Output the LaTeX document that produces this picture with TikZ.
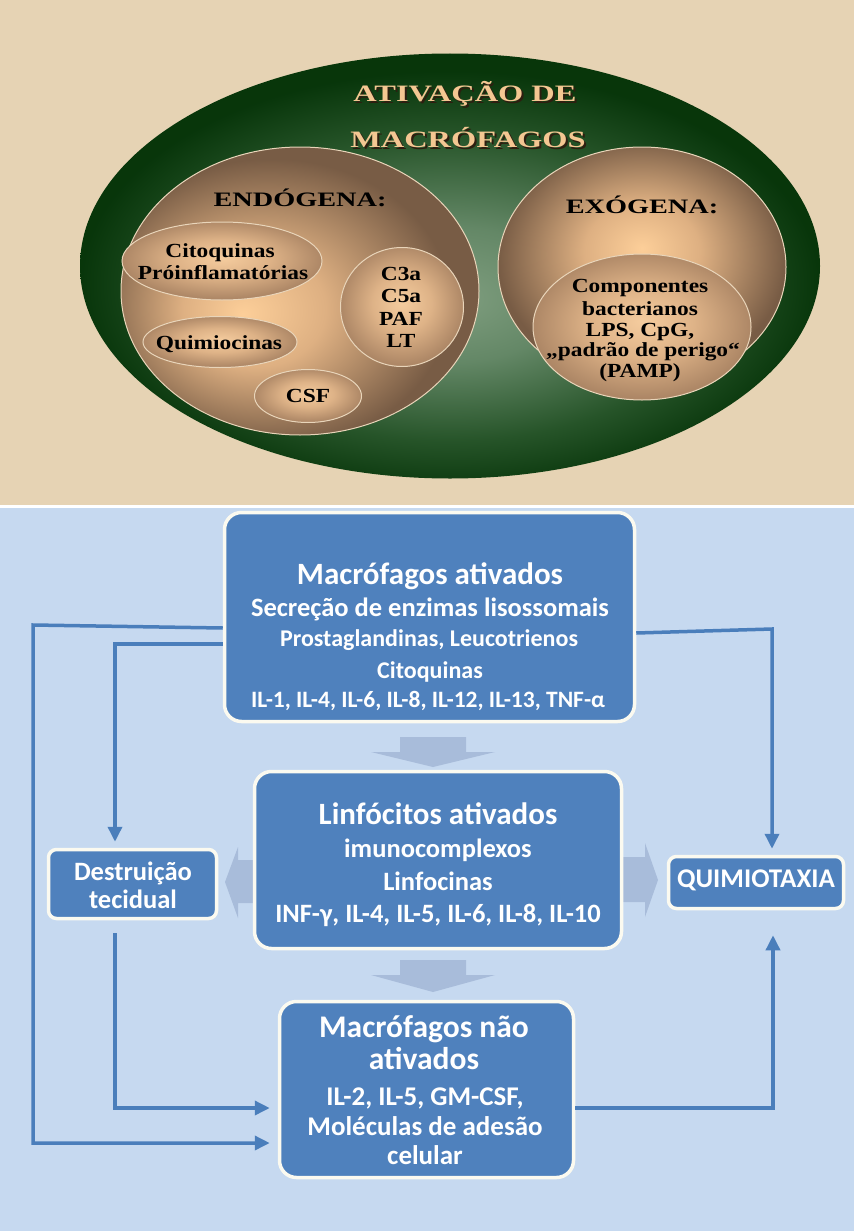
\documentclass[tikz,border=0pt]{standalone}
\usepackage{fontspec}
\setmainfont{Carlito}
\newfontfamily\headserif[FakeStretch=1.38]{Liberation Serif}
\newfontfamily\bodyserif[FakeStretch=1.17]{Liberation Serif}
\usetikzlibrary{arrows.meta,shapes.geometric,calc}

\definecolor{beige}{HTML}{E6D3B4}
\definecolor{paleblue}{HTML}{C6D9F0}
\definecolor{boxblue}{HTML}{4F81BD}
\definecolor{linkblue}{HTML}{4A7EBB}
\definecolor{ghost}{HTML}{A8BCDA}
\definecolor{boxrim}{HTML}{FBFAF0}
\definecolor{titlepeach}{HTML}{F4C792}
\definecolor{titleshadow}{HTML}{2E1E10}
\definecolor{ovalrim}{HTML}{E9D5BA}

% radial glows for the ovals
\pgfdeclareradialshading{greenglow}{\pgfpoint{0bp}{-4bp}}{rgb(0bp)=(0.50,0.62,0.50);rgb(8bp)=(0.39,0.53,0.40);rgb(18bp)=(0.15,0.33,0.16);rgb(25bp)=(0.03,0.21,0.04);rgb(50bp)=(0.03,0.21,0.04)}
\pgfdeclareradialshading{endoglow}{\pgfpoint{-8bp}{-4bp}}{rgb(0bp)=(0.99,0.81,0.60);rgb(10bp)=(0.87,0.69,0.51);rgb(25bp)=(0.47,0.36,0.27);rgb(50bp)=(0.47,0.36,0.27)}
\pgfdeclareradialshading{exoglow}{\pgfpoint{0bp}{4bp}}{rgb(0bp)=(0.99,0.81,0.60);rgb(10bp)=(0.87,0.69,0.51);rgb(25bp)=(0.47,0.36,0.27);rgb(50bp)=(0.47,0.36,0.27)}
\pgfdeclareradialshading{pebble}{\pgfpoint{0bp}{2bp}}{rgb(0bp)=(0.96,0.80,0.62);rgb(12bp)=(0.87,0.70,0.53);rgb(25bp)=(0.68,0.53,0.40);rgb(50bp)=(0.68,0.53,0.40)}

\begin{document}
\begin{tikzpicture}[x=1pt,y=-1pt,
  oval/.style={ellipse, inner sep=0pt, draw=ovalrim, line width=1pt},
  titletext/.style={anchor=base, inner sep=0pt, font=\headserif\bfseries\fontsize{23.5}{26}\selectfont},
  headtext/.style={anchor=base, inner sep=0pt, text=black, font=\headserif\bfseries\fontsize{20.5}{23}\selectfont},
  bodytext/.style={anchor=base, inner sep=0pt, text=black, font=\bodyserif\bfseries\fontsize{20}{22}\selectfont},
  panel/.style={draw=boxrim, line width=3.5pt, fill=boxblue, inner sep=0pt},
  bigpanel/.style={panel, rounded corners=17pt},
  smallpanel/.style={panel, rounded corners=8pt},
  boxtext/.style={anchor=base, inner sep=0pt, text=white, font=\bfseries\fontsize{#1}{#1}\selectfont},
  link/.style={draw=linkblue, line width=3.5pt, -{Triangle[length=15pt,width=14pt]}},
  ghostarrow/.style={fill=ghost, draw=none}
]
\useasboundingbox (0,0) rectangle (854,1231);
\fill[white] (0,0) rectangle (854,1231);
\fill[beige] (0,0) rectangle (854,505);
\fill[paleblue] (0,508) rectangle (854,1231);

% ---------- activation ovals ----------
\node[ellipse, inner sep=0pt, minimum width=740pt, minimum height=425pt, shading=greenglow] (act) at (450,266) {};
\node[oval, minimum width=358pt, minimum height=288pt, shading=endoglow] (endo) at (300,291) {};
\node[oval, minimum width=288pt, minimum height=240pt, shading=exoglow] (exo) at (642,267) {};
\node[oval, minimum width=218pt, minimum height=146pt, shading=pebble] (comp) at (642,327) {};
\node[oval, minimum width=200pt, minimum height=78pt, shading=pebble] (cito) at (222,261) {};
\node[oval, minimum width=123pt, minimum height=119pt, shading=pebble] (c3a) at (402,307) {};
\node[oval, minimum width=154pt, minimum height=51pt, shading=pebble] (quim) at (220,342) {};
\node[oval, minimum width=107pt, minimum height=53pt, shading=pebble] (csf) at (308,396) {};

\node[titletext, text=titleshadow] (ttA-s) at (467,103) {ATIVAÇÃO DE};
\node[titletext, text=titlepeach] (ttA) at (465,101) {ATIVAÇÃO DE};
\node[titletext, text=titleshadow] (ttB-s) at (470,149) {MACRÓFAGOS};
\node[titletext, text=titlepeach] (ttB) at (468,147) {MACRÓFAGOS};

\node[headtext] (endo-t) at (300,206) {ENDÓGENA:};
\node[headtext] (exo-t) at (642,213) {EXÓGENA:};

\node[bodytext] (cito-1) at (220,257) {Citoquinas};
\node[bodytext] (cito-2) at (223,279) {Próinflamatórias};
\node[bodytext] (c3a-1) at (401,280) {C3a};
\node[bodytext] (c3a-2) at (401,302) {C5a};
\node[bodytext] (c3a-3) at (401,325) {PAF};
\node[bodytext] (c3a-4) at (401,347) {LT};
\node[bodytext] (quim-t) at (219,349) {Quimiocinas};
\node[bodytext] (csf-t) at (308,402) {CSF};
\node[bodytext] (comp-1) at (640,292) {Componentes};
\node[bodytext] (comp-2) at (640,315) {bacterianos};
\node[bodytext] (comp-3) at (640,336) {LPS, CpG,};
\node[bodytext] (comp-4) at (643,356) {„padrão de perigo“};
\node[bodytext] (comp-5) at (640,377) {(PAMP)};

% ---------- pale block arrows between the boxes ----------
\fill[ghostarrow] (400,737) -- (466,737) -- (466,752) -- (495,752) -- (433,767) -- (371,752) -- (400,752) -- cycle;
\fill[ghostarrow] (400,960) -- (466,960) -- (466,975) -- (495,975) -- (433,992) -- (371,975) -- (400,975) -- cycle;
\fill[ghostarrow] (260,860) -- (238,860) -- (238,847) -- (225,882) -- (238,918) -- (238,903) -- (260,903) -- cycle;
\fill[ghostarrow] (615,857) -- (645,857) -- (645,843) -- (658,880) -- (645,917) -- (645,902) -- (615,902) -- cycle;

% ---------- boxes ----------
\node[bigpanel, minimum width=410pt, minimum height=209pt] (b1) at (429.5,617) {};
\node[bigpanel, minimum width=367pt, minimum height=177pt] (b2) at (438,860) {};
\node[bigpanel, minimum width=294pt, minimum height=176pt] (b3) at (426.5,1089.5) {};
\node[smallpanel, minimum width=168pt, minimum height=69pt] (dt) at (132.5,884) {};
\node[smallpanel, minimum width=175pt, minimum height=52pt] (qx) at (756,882.5) {};

\node[boxtext=31] (b1-1) at (430,584) {Macrófagos ativados};
\node[boxtext=26.5] (b1-2) at (430,616) {Secreção de enzimas lisossomais};
\node[boxtext=24] (b1-3) at (429,646) {Prostaglandinas, Leucotrienos};
\node[boxtext=24] (b1-4) at (430,678) {Citoquinas};
\node[boxtext=23.5] (b1-5) at (428,707) {IL-1, IL-4, IL-6, IL-8, IL-12, IL-13, TNF-α};

\node[boxtext=31] (b2-1) at (438,824) {Linfócitos ativados};
\node[boxtext=26.5] (b2-2) at (438,857) {imunocomplexos};
\node[boxtext=26.5] (b2-3) at (438,890) {Linfocinas};
\node[boxtext=26.5] (b2-4) at (438,922) {INF-γ, IL-4, IL-5, IL-6, IL-8, IL-10};

\node[boxtext=31.5] (b3-1) at (424,1037) {Macrófagos não};
\node[boxtext=31.5] (b3-2) at (424,1069) {ativados};
\node[boxtext=27] (b3-3) at (425,1105) {IL-2, IL-5, GM-CSF,};
\node[boxtext=27] (b3-4) at (425,1135) {Moléculas de adesão};
\node[boxtext=27] (b3-5) at (425,1164) {celular};

\node[boxtext=26.5] (dt-1) at (133,880) {Destruição};
\node[boxtext=26.5] (dt-2) at (133,908) {tecidual};
\node[boxtext=27] (qx-t) at (756,887) {QUIMIOTAXIA};

% ---------- connectors ----------
\coordinate (lA) at (33,625);
\coordinate (lB) at (115,644);
\coordinate (rA) at (772,629);

\draw[link] ($(b1.west)+(0,11)$) -- (lA) |- ($(b3.west)+(-8,53.5)$);
\draw[link] ($(b1.west)+(0,27)$) -- (lB) -- ($(lB |- dt.north)+(0,-6)$);
\draw[link] ($(lB |- dt.south)+(0,13)$) |- ($(b3.west)+(-8,18.5)$);
\draw[link] ($(b1.east)+(0,16)$) -- (rA) -- ($(rA |- qx.north)+(0,-6)$);
\draw[link] ($(b3.east)+(0,18.5)$) -| ($(qx.south)+(17,25)$);
\end{tikzpicture}
\end{document}
